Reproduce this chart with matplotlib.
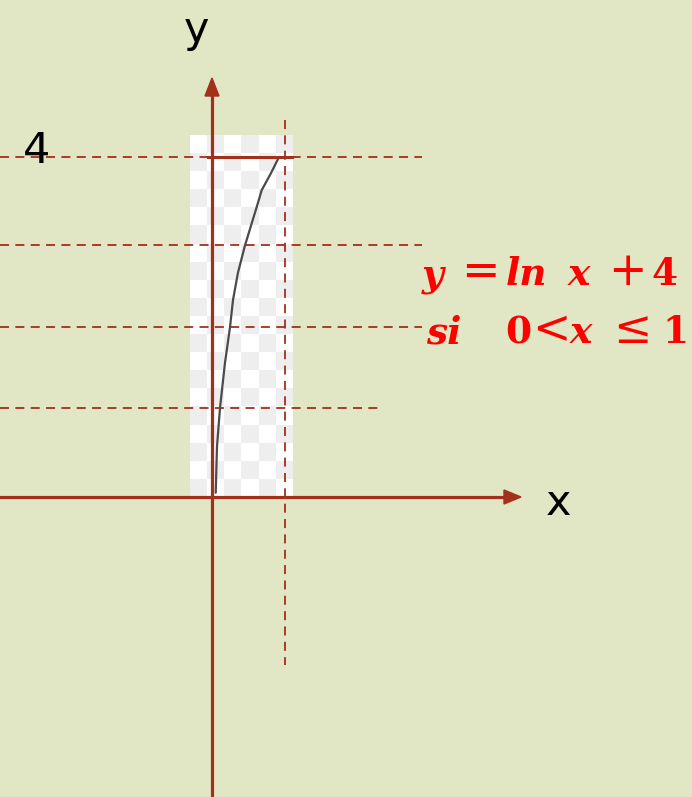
import numpy as np
import matplotlib
matplotlib.use("Agg")
import matplotlib.pyplot as plt
from matplotlib.patches import Polygon

# ---- data ----
curve_x = [0.051, 0.068, 0.110, 0.178, 0.247, 0.288, 0.356, 0.452, 0.544, 0.612, 0.681, 0.808, 0.918]
curve_y = [0.05, 0.59, 1.05, 1.58, 2.00, 2.32, 2.64, 2.96, 3.22, 3.41, 3.61, 3.81, 4.00]
guide_levels = [4.0, 2.96, 2.0, 1.05]
guide_right = [2.87, 2.87, 2.87, 2.30]
x_bound = 1.0
tick_label = "4"
eq_line1 = [("y", "it"), ("=", "op"), ("ln", "it"), ("x", "it"), ("+", "op"), ("4", "rm")]
eq_line2 = [("si", "it"), ("0", "rm"), ("<", "op"), ("x", "it"), ("≤", "op"), ("1", "rm")]

BG = "#E1E7C5"
AX = "#A3301A"

fig = plt.figure(figsize=(6.92, 7.97), dpi=100, facecolor=BG)
ax = fig.add_axes([0, 0, 1, 1])
ax.set_facecolor(BG)
sx, sy = 73.0, 85.0
ax.set_xlim(-212 / sx, (692 - 212) / sx)
ax.set_ylim(-(797 - 497) / sy, 497 / sy)
ax.axis('off')

def px(v):
    return (v - 212) / sx

def py(v):
    return (497 - v) / sy

# checkerboard (transparent image placeholder)
ncol, nrow = 6, 20
chk = (np.add.outer(np.arange(nrow), np.arange(ncol)) % 2)
img = np.where(chk[..., None] == 1, np.array([0.935, 0.935, 0.935]), np.array([1.0, 1.0, 1.0]))
ax.imshow(img, extent=[px(190), px(293), py(497), py(135)], origin='upper', aspect='auto',
          interpolation='nearest', zorder=1)

# dashed guides
dash = (0, (5, 3.5))
for lvl, xr in zip(guide_levels, guide_right):
    ax.plot([px(0), xr], [lvl, lvl], color=AX, lw=1.3, ls=dash, zorder=2)
ax.plot([x_bound, x_bound], [py(120), py(665)], color=AX, lw=1.3, ls=dash, zorder=2)

# curve
ax.plot(curve_x, curve_y, color="#4a4a4a", lw=1.6, zorder=3, solid_capstyle='round',
        solid_joinstyle='round')

# solid top line
ax.plot([px(208), px(292)], [guide_levels[0], guide_levels[0]], color=AX, lw=2.2, zorder=3)

# axes lines
ax.plot([0, 0], [py(797), py(95)], color=AX, lw=2.3, zorder=4)
ax.plot([px(0), px(505)], [0, 0], color=AX, lw=2.3, zorder=4)
ax.add_patch(Polygon([[0, py(78)], [px(205), py(96)], [px(219), py(96)]],
                     closed=True, color=AX, zorder=5))
ax.add_patch(Polygon([[px(521), 0], [px(504), py(490)], [px(504), py(504)]],
                     closed=True, color=AX, zorder=5))

# labels
ax.text(px(37), py(151), tick_label, fontsize=31, color='black',
        ha='center', va='center', fontfamily='DejaVu Sans', zorder=6)
ax.text(px(197), py(30), "y", fontsize=31, color='black',
        ha='center', va='center', fontfamily='DejaVu Sans', zorder=6)
ax.text(px(559), py(503), "x", fontsize=31, color='black',
        ha='center', va='center', fontfamily='DejaVu Sans', zorder=6)

pos1 = [422, 461, 506, 568, 608, 652]
pos2 = [426, 505, 532, 570, 613, 662]
def draw_line(tokens, positions, base):
    for (tok, sty), xp in zip(tokens, positions):
        ax.text(px(xp), py(base), tok, fontsize=33 if sty == 'op' else 27, color='#FF0000',
                ha='left', va='baseline', fontfamily='DejaVu Serif',
                fontweight='normal' if sty == 'op' else 'bold',
                fontstyle='italic' if sty == 'it' else 'normal', zorder=6)

draw_line(eq_line1, pos1, 285)
draw_line(eq_line2, pos2, 343)

fig.savefig("out.png", dpi=100, facecolor=BG)
